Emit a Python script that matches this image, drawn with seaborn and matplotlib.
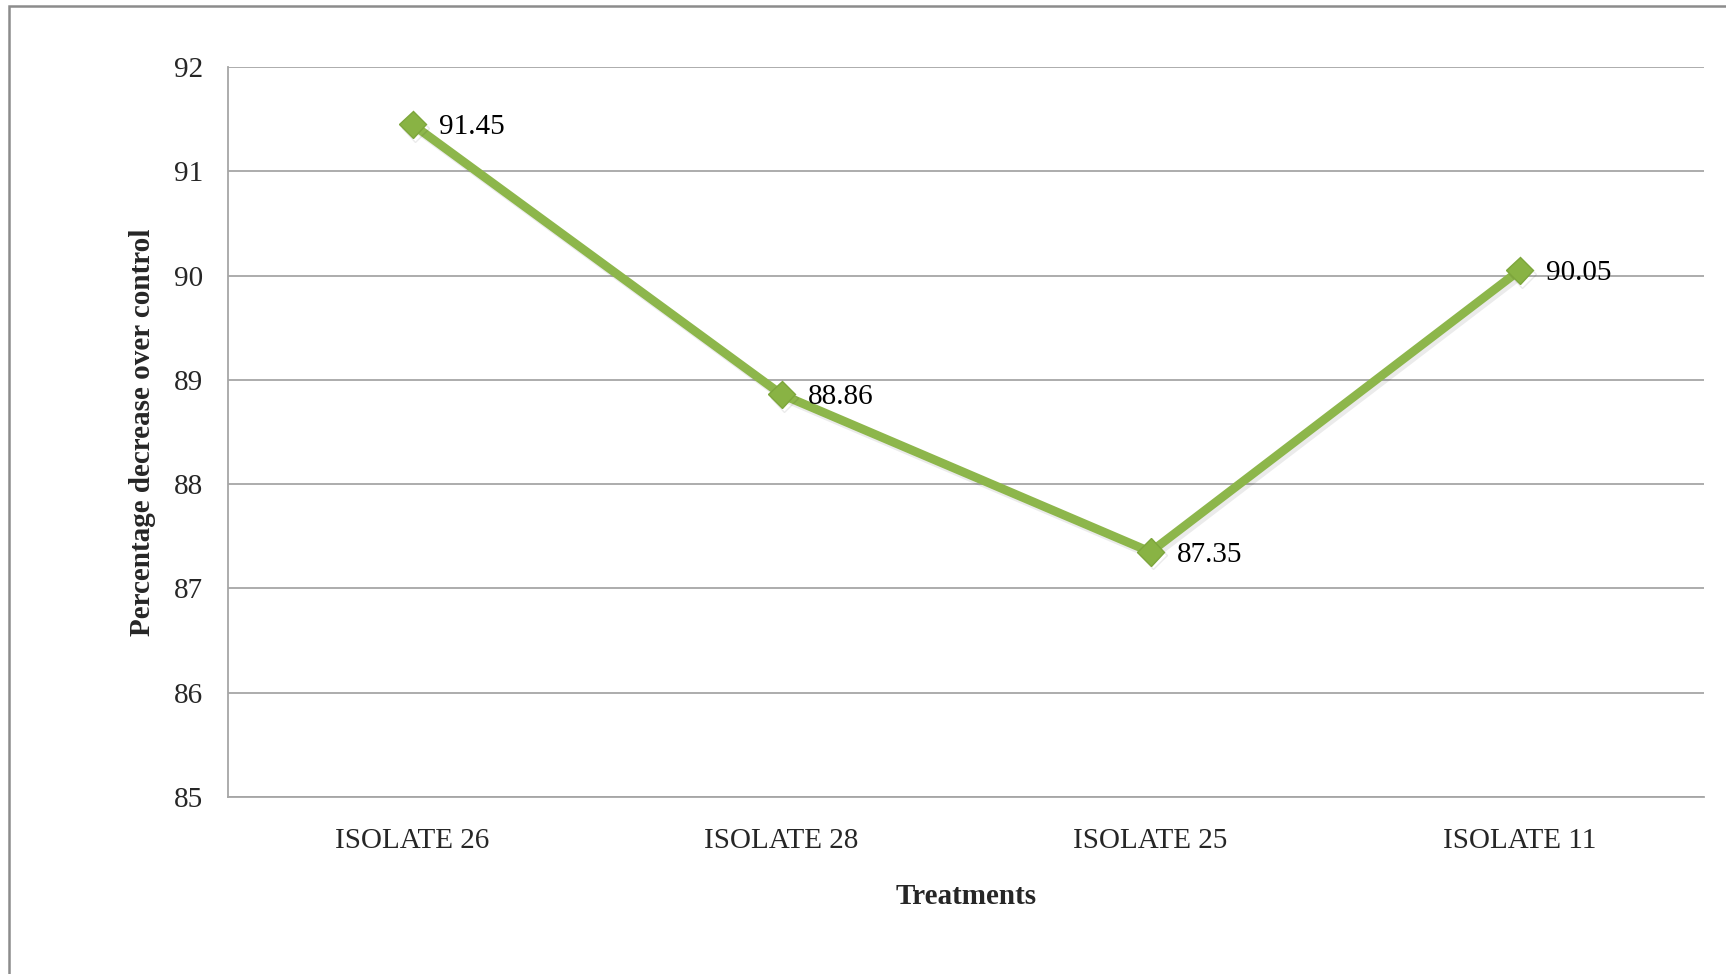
import matplotlib
matplotlib.use("Agg")
import matplotlib.pyplot as plt
import matplotlib.patheffects as pe
import seaborn as sns
import pandas as pd
from matplotlib.patches import Rectangle

treatments = ["ISOLATE 26", "ISOLATE 28", "ISOLATE 25", "ISOLATE 11"]
decrease = [91.45, 88.86, 87.35, 90.05]
y_ticks = [85, 86, 87, 88, 89, 90, 91, 92]

sns.set_theme(style="white")
plt.rcParams["font.family"] = ["Liberation Serif", "DejaVu Serif"]

df = pd.DataFrame({"Treatments": treatments, "Decrease": decrease})
df["pos"] = range(len(df))

W, H = 1726, 974
fig = plt.figure(figsize=(W / 100, H / 100), dpi=100)
ax = fig.add_axes([228 / W, 1 - 797 / H, (1704 - 228) / W, (797 - 67) / H])

green = "#8DB64B"
sns.lineplot(data=df, x="pos", y="Decrease", ax=ax, sort=False,
             color=green, linewidth=6.3, marker="D", markersize=14,
             markerfacecolor="#89B344", markeredgecolor="#7DA63C",
             markeredgewidth=1)
for line in ax.get_lines():
    line.set_path_effects([pe.SimpleLineShadow(offset=(2, -2.5), alpha=0.08,
                                               shadow_color="black"),
                           pe.Normal()])

fs = 21
for x, v in zip(df["pos"], df["Decrease"]):
    ax.annotate(f"{v:.2f}", (x, v), xytext=(19, 0), textcoords="offset points",
                ha="left", va="center_baseline", fontsize=fs, color="black")

ax.set_xlim(-0.5, len(treatments) - 0.5)
ax.set_ylim(85, 92)
ax.set_yticks(y_ticks)
ax.set_yticklabels([str(t) for t in y_ticks], fontsize=fs)
ax.set_xticks(df["pos"])
ax.set_xticklabels(treatments, fontsize=fs)
ax.tick_params(axis="both", length=0, pad=18)
ax.tick_params(axis="x", pad=22)

ax.grid(axis="y", color="#A6A6A6", linewidth=1.3)
ax.set_axisbelow(True)
for side in ["top", "right"]:
    ax.spines[side].set_visible(False)
for side in ["left", "bottom"]:
    ax.spines[side].set_color("#A6A6A6")
    ax.spines[side].set_linewidth(1.3)

ax.set_xlabel("Treatments", fontsize=fs, fontweight="bold", labelpad=21)
ax.set_ylabel("Percentage decrease over control", fontsize=fs,
              fontweight="bold", labelpad=13)

# chart frame, open on the right and bottom
fig.patches.append(Rectangle((9 / W, -0.1), 1.2, 1 - 6 / H + 0.1,
                             transform=fig.transFigure, fill=False,
                             edgecolor="#8C8C8C", linewidth=1.8))

fig.savefig("out.png", dpi=100, facecolor="white")
